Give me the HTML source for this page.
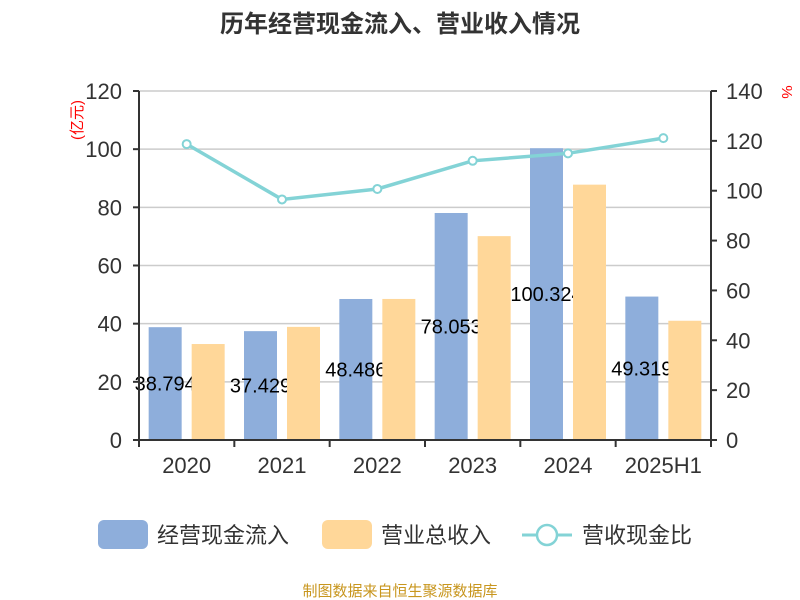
<!DOCTYPE html>
<html><head><meta charset="utf-8"><style>
body{margin:0;background:#fff;}
svg{display:block;font-family:"Liberation Sans","Noto Sans CJK SC",sans-serif;}
</style></head><body>
<svg id="chart" width="800" height="600"></svg>
<script>
const categories=["2020","2021","2022","2023","2024","2025H1"];
const cashIn=[38.794,37.429,48.486,78.053,100.324,49.319];
const revenue=[33.0,38.9,48.5,70.1,87.8,41.0];
const ratio=[118.7,96.5,100.7,112.0,115.0,121.1];
const leftTicks=[0,20,40,60,80,100,120];
const rightTicks=[0,20,40,60,80,100,120,140];
const NS="http://www.w3.org/2000/svg";
const svg=document.getElementById('chart');
const X0=139,X1=711,Y0=440,Y1=91;
const yL=v=>Y0-(v/120)*(Y0-Y1);
const yR=v=>Y0-(v/140)*(Y0-Y1);
const bw=(X1-X0)/categories.length;
const xc=i=>X0+bw*(i+0.5);
function el(t,a,txt){const e=document.createElementNS(NS,t);for(const k in a)e.setAttribute(k,a[k]);if(txt!=null)e.textContent=txt;svg.appendChild(e);return e;}
let e;
e=el('text',{x:400,y:32,'text-anchor':'middle','font-size':24,'font-weight':'bold',fill:'#333'},'历年经营现金流入、营业收入情况');


leftTicks.forEach(t=>{
 if(t>0){e=el('line',{x1:X0,x2:X1,y1:yL(t),y2:yL(t),stroke:'#ccc','stroke-width':1.5});
 
 }
 e=el('text',{x:122,y:yL(t)+8,'text-anchor':'end','font-size':22,fill:'#333'},t);
 
 
 el('line',{x1:X0-6,x2:X0,y1:yL(t),y2:yL(t),stroke:'#333','stroke-width':2});
});
rightTicks.forEach(t=>{
 e=el('text',{x:726,y:yR(t)+8,'font-size':22,fill:'#333'},t);
 
 
 el('line',{x1:X1,x2:X1+6,y1:yR(t),y2:yR(t),stroke:'#333','stroke-width':2});
});
e=el('text',{x:0,y:0,'font-size':15,fill:'red',transform:'translate(82,120) rotate(-90)','text-anchor':'middle'},'(亿元)');


e=el('text',{x:0,y:0,'font-size':15,fill:'red',transform:'translate(782,92) rotate(90)','text-anchor':'middle'},'%');


categories.forEach((c,i)=>{
 e=el('rect',{x:xc(i)-38,y:yL(cashIn[i]),width:33,height:Y0-yL(cashIn[i]),fill:'#8eaedb'});
 
 
 e=el('text',{x:xc(i)-21.5,y:yL(cashIn[i]/2)+7,'text-anchor':'middle','font-size':20,fill:'#000'},cashIn[i].toFixed(3));
 
 
});
categories.forEach((c,i)=>{
 e=el('rect',{x:xc(i)+5,y:yL(revenue[i]),width:33,height:Y0-yL(revenue[i]),fill:'#ffd799'});
 
 
 e=el('text',{x:xc(i),y:473,'text-anchor':'middle','font-size':22,fill:'#333'},c);
 
 
});
for(let i=0;i<=categories.length;i++)el('line',{x1:X0+bw*i,x2:X0+bw*i,y1:Y0,y2:Y0+7,stroke:'#333','stroke-width':2});
el('line',{x1:X0,x2:X0,y1:Y1,y2:Y0+7,stroke:'#333','stroke-width':2});
el('line',{x1:X1,x2:X1,y1:Y1,y2:Y0+7,stroke:'#333','stroke-width':2});
el('line',{x1:X0,x2:X1,y1:Y0,y2:Y0,stroke:'#333','stroke-width':2});
e=el('polyline',{points:ratio.map((v,i)=>xc(i)+','+yR(v)).join(' '),fill:'none',stroke:'#83d3d6','stroke-width':3.5});


ratio.forEach((v,i)=>{
 e=el('circle',{cx:xc(i),cy:yR(v),r:4,fill:'#fff',stroke:'#83d3d6','stroke-width':2});
 
 
});
// legend
e=el('rect',{x:98,y:520,width:50,height:29,rx:6,fill:'#8eaedb'});


e=el('text',{x:157,y:543,'font-size':22,fill:'#333'},'经营现金流入');


e=el('rect',{x:322,y:520,width:50,height:29,rx:6,fill:'#ffd799'});


e=el('text',{x:381,y:543,'font-size':22,fill:'#333'},'营业总收入');


el('line',{x1:522,x2:572,y1:535,y2:535,stroke:'#83d3d6','stroke-width':3});
e=el('circle',{cx:547,cy:535,r:10,fill:'#fff',stroke:'#83d3d6','stroke-width':2.5});


e=el('text',{x:582,y:543,'font-size':22,fill:'#333'},'营收现金比');


e=el('text',{x:400,y:596,'text-anchor':'middle','font-size':15,fill:'#c8961e'},'制图数据来自恒生聚源数据库');


</script>
</body></html>
